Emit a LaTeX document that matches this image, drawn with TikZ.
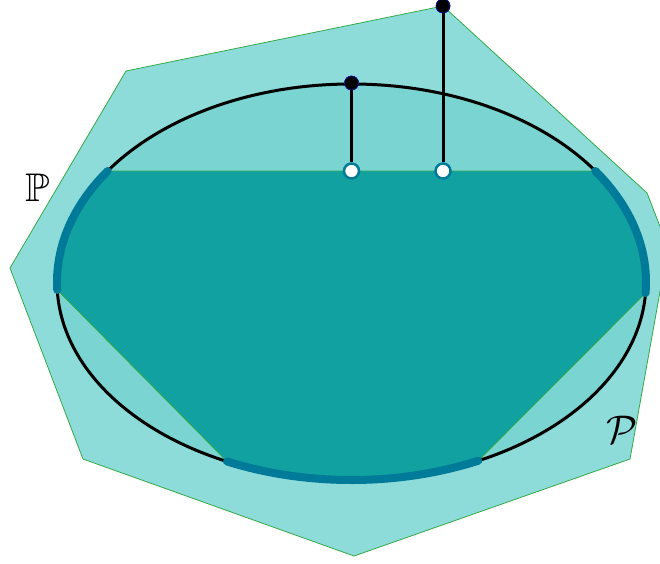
\documentclass[tikz,border=0pt]{standalone}
\usepackage{amssymb}
\begin{document}
\begin{tikzpicture}[x=1pt,y=-1pt,
  polyfill/.style={fill={rgb,255:red,142;green,220;blue,218},draw={rgb,255:red,50;green,170;blue,70},line width=0.8pt,line join=miter},
  ellfill/.style={fill={rgb,255:red,122;green,213;blue,210}},
  darkfill/.style={fill={rgb,255:red,18;green,161;blue,161},draw={rgb,255:red,50;green,170;blue,70},line width=0.8pt},
  thickarc/.style={draw={rgb,255:red,0;green,122;blue,153},line width=8pt,line cap=round},
  bdot/.style={circle,fill=black,draw={rgb,255:red,20;green,20;blue,170},line width=0.6pt,minimum size=14pt,inner sep=0pt},
  hdot/.style={circle,fill=white,draw={rgb,255:red,0;green,122;blue,153},line width=2.5pt,minimum size=15pt,inner sep=0pt},
  stem/.style={draw=black,line width=3pt}]
\useasboundingbox (0,0) rectangle (660,563);
\clip (0,0) rectangle (660,563);
\def\cx{351.5}\def\cy{282}\def\ra{294.5}\def\rb{198}
% outer polygon
\path[polyfill] (443,6) -- (647,193) -- (668,247) -- (630,459) -- (354,556) -- (83,459) -- (10,268) -- (126,71) -- cycle;
% ellipse interior
\fill[ellfill] (\cx,\cy) ellipse [x radius=\ra, y radius=\rb];
% points on ellipse
\coordinate (a1) at ({\cx+\ra*cos(-145.9)},{\cy+\rb*sin(-145.9)});
\coordinate (a2) at ({\cx+\ra*cos(-182.3)},{\cy+\rb*sin(-182.3)});
\coordinate (a3) at ({\cx+\ra*cos(-245)},{\cy+\rb*sin(-245)});
\coordinate (a4) at ({\cx+\ra*cos(-295.5)},{\cy+\rb*sin(-295.5)});
\coordinate (a5) at ({\cx+\ra*cos(-356.8)},{\cy+\rb*sin(-356.8)});
\coordinate (a6) at ({\cx+\ra*cos(-34.1)},{\cy+\rb*sin(-34.1)});
% dark region
\path[darkfill] (a6) -- (a1)
  arc[start angle=-145.9, end angle=-182.3, x radius=\ra, y radius=\rb]
  -- (a3)
  arc[start angle=-245, end angle=-295.5, x radius=\ra, y radius=\rb]
  -- (a5)
  arc[start angle=-356.8, end angle=-394.1, x radius=\ra, y radius=\rb]
  -- cycle;
% ellipse outline
\draw[black,line width=3pt] (\cx,\cy) ellipse [x radius=\ra, y radius=\rb];
% thick arcs
\draw[thickarc] (a1) arc[start angle=-145.9, end angle=-182.3, x radius=\ra, y radius=\rb];
\draw[thickarc] (a3) arc[start angle=-245, end angle=-295.5, x radius=\ra, y radius=\rb];
\draw[thickarc] (a5) arc[start angle=-356.8, end angle=-394.1, x radius=\ra, y radius=\rb];
% stems and dots
\node[bdot] (d1) at (351.5,83) {};
\node[hdot] (h1) at (351.5,171) {};
\node[bdot] (d2) at (443,6) {};
\node[hdot] (h2) at (443,171) {};
\draw[stem] (d1) -- (h1);
\draw[stem] (d2) -- (h2);
\node[bdot] at (d1) {};
\node[bdot] at (d2) {};
% labels
\node[scale=4] (lP) at (38,188) {$\mathbb{P}$};
\node[scale=4] (lcP) at (622,430) {$\mathcal{P}$};
\end{tikzpicture}
\end{document}
